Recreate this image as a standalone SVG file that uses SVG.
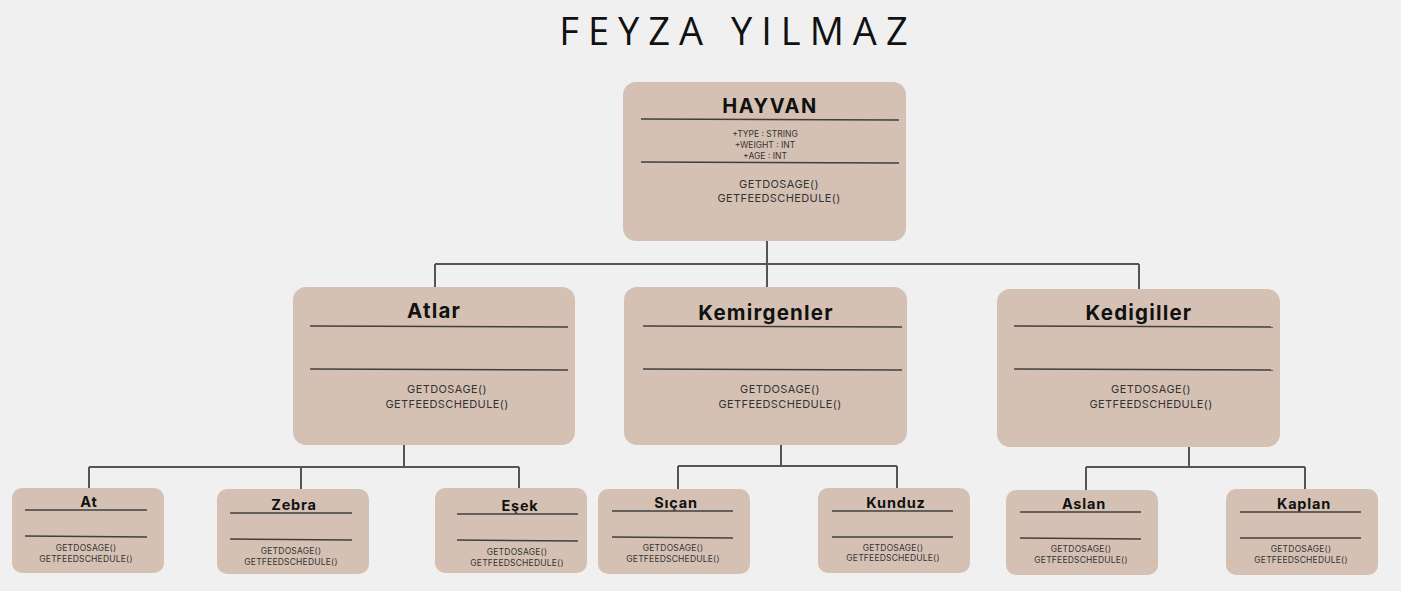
<svg xmlns="http://www.w3.org/2000/svg" width="1401" height="591" viewBox="0 0 1401 591">
<style>
.bg{fill:#f0f0f0}
.box{fill:#d5c1b3}
.sep{stroke:#3f3f3f;stroke-width:1.5}
.con{stroke:#555;stroke-width:2;fill:none}
.t{font-family:"Inter","Noto Sans",sans-serif;text-anchor:middle;fill:#111}
.title{font-family:"Open Sans","Noto Sans",sans-serif;font-size:38px;letter-spacing:9px;fill:#111;text-anchor:middle}
.h1{font-size:20px;font-weight:700;letter-spacing:1.5px}
.h2{font-size:20.5px;font-weight:700;letter-spacing:1.2px}
.h3{font-size:14.5px;font-weight:700;letter-spacing:0.8px}
.attr{font-size:8.5px;fill:#333}
.m1{font-size:11px;fill:#333;letter-spacing:0.4px}
.m2{font-size:8.5px;fill:#333;letter-spacing:0.2px}
</style>
<rect class="bg" x="0" y="0" width="1401" height="591"/>
<text class="title" x="738" y="45">FEYZA YILMAZ</text>

<g id="connectors">
<path class="con" d="M767 241 V264 M435 264 H1139 M435 264 V287 M767 264 V287 M1139 264 V289"/>
<path class="con" d="M404 445 V467 M89 467 H519 M89 467 V488 M301 467 V489 M519 467 V488"/>
<path class="con" d="M781 445 V466 M678 466 H897 M678 466 V489 M897 466 V488"/>
<path class="con" d="M1189 447 V467 M1086 467 H1305 M1086 467 V490 M1305 467 V489"/>
</g>

<g id="hayvan">
<rect class="box" x="623" y="82" width="283" height="159" rx="13"/>
<text class="t h1" x="770" y="113">HAYVAN</text>
<line class="sep" x1="641" y1="119" x2="899" y2="120"/>
<text class="t attr" x="765" y="137">+TYPE : STRING</text>
<text class="t attr" x="765" y="148">+WEIGHT : INT</text>
<text class="t attr" x="765" y="159">+AGE : INT</text>
<line class="sep" x1="641" y1="162" x2="899" y2="163"/>
<text class="t m1" x="779" y="188">GETDOSAGE()</text>
<text class="t m1" x="779" y="202">GETFEEDSCHEDULE()</text>
</g>

<g id="atlar">
<rect class="box" x="293" y="287" width="282" height="158" rx="13"/>
<text class="t h2" x="434" y="318">Atlar</text>
<line class="sep" x1="310" y1="326" x2="568" y2="327"/>
<line class="sep" x1="310" y1="369" x2="568" y2="370"/>
<text class="t m1" x="447" y="393">GETDOSAGE()</text>
<text class="t m1" x="447" y="408">GETFEEDSCHEDULE()</text>
</g>

<g id="kemirgenler">
<rect class="box" x="624" y="287" width="283" height="158" rx="13"/>
<text class="t h2" x="766" y="320">Kemirgenler</text>
<line class="sep" x1="643" y1="326" x2="902" y2="327"/>
<line class="sep" x1="643" y1="369" x2="902" y2="370"/>
<text class="t m1" x="780" y="393">GETDOSAGE()</text>
<text class="t m1" x="780" y="408">GETFEEDSCHEDULE()</text>
</g>

<g id="kedigiller">
<rect class="box" x="997" y="289" width="283" height="158" rx="13"/>
<text class="t h2" x="1139" y="320">Kedigiller</text>
<line class="sep" x1="1014" y1="326" x2="1273" y2="327"/>
<line class="sep" x1="1014" y1="369" x2="1273" y2="370"/>
<text class="t m1" x="1151" y="393">GETDOSAGE()</text>
<text class="t m1" x="1151" y="408">GETFEEDSCHEDULE()</text>
</g>

<g id="at">
<rect class="box" x="12" y="488" width="152" height="85" rx="10"/>
<text class="t h3" x="89" y="507">At</text>
<line class="sep" x1="25" y1="510" x2="147" y2="510"/>
<line class="sep" x1="25" y1="536" x2="147" y2="537"/>
<text class="t m2" x="86" y="551">GETDOSAGE()</text>
<text class="t m2" x="86" y="562">GETFEEDSCHEDULE()</text>
</g>

<g id="zebra">
<rect class="box" x="217" y="489" width="152" height="85" rx="10"/>
<text class="t h3" x="294" y="510">Zebra</text>
<line class="sep" x1="230" y1="513" x2="352" y2="513"/>
<line class="sep" x1="230" y1="539" x2="352" y2="540"/>
<text class="t m2" x="291" y="554">GETDOSAGE()</text>
<text class="t m2" x="291" y="565">GETFEEDSCHEDULE()</text>
</g>

<g id="esek">
<rect class="box" x="435" y="488" width="152" height="85" rx="10"/>
<text class="t h3" x="520" y="511">Eşek</text>
<line class="sep" x1="457" y1="514" x2="578" y2="514"/>
<line class="sep" x1="457" y1="540" x2="578" y2="541"/>
<text class="t m2" x="517" y="555">GETDOSAGE()</text>
<text class="t m2" x="517" y="566">GETFEEDSCHEDULE()</text>
</g>

<g id="sican">
<rect class="box" x="598" y="489" width="152" height="85" rx="10"/>
<text class="t h3" x="676" y="508">Sıçan</text>
<line class="sep" x1="612" y1="511" x2="733" y2="511"/>
<line class="sep" x1="612" y1="537" x2="733" y2="538"/>
<text class="t m2" x="673" y="551">GETDOSAGE()</text>
<text class="t m2" x="673" y="562">GETFEEDSCHEDULE()</text>
</g>

<g id="kunduz">
<rect class="box" x="818" y="488" width="152" height="85" rx="10"/>
<text class="t h3" x="896" y="508">Kunduz</text>
<line class="sep" x1="832" y1="511" x2="953" y2="511"/>
<line class="sep" x1="832" y1="537" x2="953" y2="537"/>
<text class="t m2" x="893" y="551">GETDOSAGE()</text>
<text class="t m2" x="893" y="561">GETFEEDSCHEDULE()</text>
</g>

<g id="aslan">
<rect class="box" x="1006" y="490" width="152" height="85" rx="10"/>
<text class="t h3" x="1084" y="509">Aslan</text>
<line class="sep" x1="1020" y1="512" x2="1141" y2="512"/>
<line class="sep" x1="1020" y1="538" x2="1141" y2="539"/>
<text class="t m2" x="1081" y="552">GETDOSAGE()</text>
<text class="t m2" x="1081" y="563">GETFEEDSCHEDULE()</text>
</g>

<g id="kaplan">
<rect class="box" x="1226" y="489" width="152" height="86" rx="10"/>
<text class="t h3" x="1304" y="509">Kaplan</text>
<line class="sep" x1="1240" y1="512" x2="1361" y2="512"/>
<line class="sep" x1="1240" y1="538" x2="1361" y2="538"/>
<text class="t m2" x="1301" y="552">GETDOSAGE()</text>
<text class="t m2" x="1301" y="563">GETFEEDSCHEDULE()</text>
</g>
</svg>
